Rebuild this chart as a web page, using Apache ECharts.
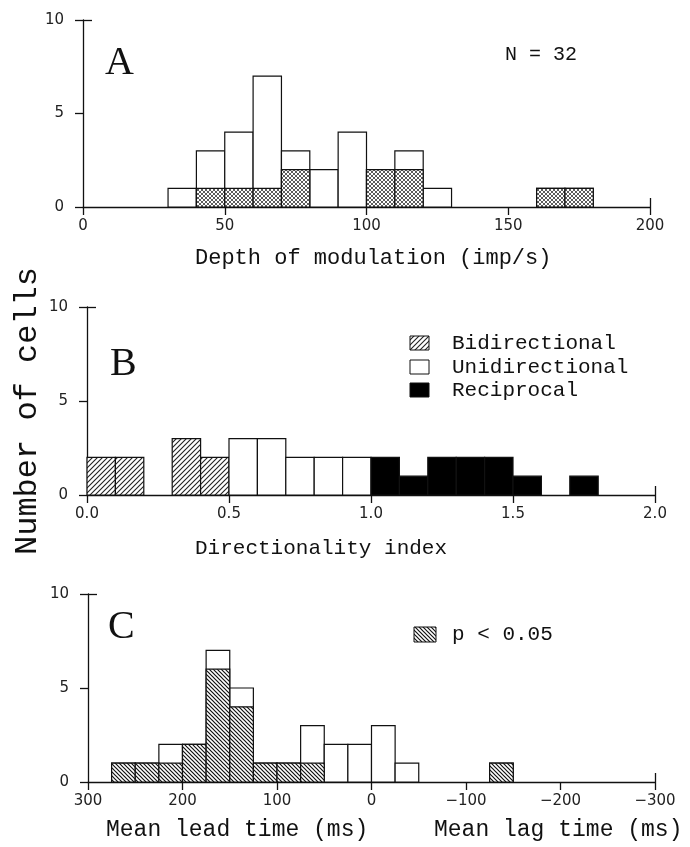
<!DOCTYPE html>
<html>
<head>
<meta charset="utf-8">
<script src="https://cdn.jsdelivr.net/npm/echarts@6/dist/echarts.min.js"></script>
<style>
  html, body, #main { width: 690px; height: 847px; margin: 0; background: #fff; }
</style>
</head>
<body>
<div id="main"></div>
<script>
// A: depth of modulation, 10 imp/s bins (shaded part drawn over total)
var aBinStart = [30, 40, 50, 60, 70, 80, 90, 100, 110, 120, 160, 170]
var aTotal    = [1, 3, 4, 7, 3, 2, 4, 2, 3, 1, 1, 1]
var aShaded   = [0, 1, 1, 1, 2, 0, 0, 2, 2, 0, 1, 1]
var aBinWidth = 10

// B: directionality index, 0.1 bins
var bBinStart = [0.0, 0.1, 0.2, 0.3, 0.4, 0.5, 0.6, 0.7, 0.8, 0.9, 1.0, 1.1, 1.2, 1.3, 1.4, 1.5, 1.6, 1.7]
var bBidirectional  = [2, 2, 0, 3, 2, 0, 0, 0, 0, 0, 0, 0, 0, 0, 0, 0, 0, 0]
var bUnidirectional = [0, 0, 0, 0, 0, 3, 3, 2, 2, 2, 0, 0, 0, 0, 0, 0, 0, 0]
var bReciprocal     = [0, 0, 0, 0, 0, 0, 0, 0, 0, 0, 2, 1, 2, 2, 2, 1, 0, 1]
var bBinWidth = 0.1

// C: mean lead (+) / lag (-) time, 25 ms bins, axis runs 300 -> -300
var cBinStart    = [275, 250, 225, 200, 175, 150, 125, 100, 75, 50, 25, 0, -25, -125]
var cTotal       = [1, 1, 2, 2, 7, 5, 1, 1, 3, 2, 2, 3, 1, 1]
var cSignificant = [1, 1, 1, 2, 6, 4, 1, 1, 1, 0, 0, 0, 0, 1]
var cBinWidth = -25

var monoFont = '"Liberation Mono", "DejaVu Sans Mono", monospace'
var ink = '#111'

function pattern(size, dirs, lw, color) {
  var c = document.createElement('canvas')
  c.width = c.height = size
  var g = c.getContext('2d')
  g.fillStyle = '#fff'
  g.fillRect(0, 0, size, size)
  g.strokeStyle = color
  g.lineWidth = lw
  g.beginPath()
  dirs.forEach(function (d) {
    for (var k = -1; k <= 1; k++) {
      if (d === '/') { g.moveTo(k * size - 1, size + 1); g.lineTo(k * size + size + 1, -1) }
      else { g.moveTo(k * size - 1, -1); g.lineTo(k * size + size + 1, size + 1) }
    }
  })
  g.stroke()
  return { image: c, repeat: 'repeat' }
}

var crossFill = pattern(4, ['/', '\\'], 0.8, '#333')
var slashFill = pattern(5, ['/'], 1.1, '#222')
var backFill  = pattern(4, ['\\'], 1.2, '#111')

function hist(starts, counts, width) {
  return starts.map(function (s, i) { return [s, s + width, counts[i]] })
    .filter(function (d) { return d[2] > 0 })
}

function histSeries(idx, data, fill) {
  return {
    type: 'custom', xAxisIndex: idx, yAxisIndex: idx,
    encode: { x: [0, 1], y: 2 },
    data: data, silent: true, animation: false,
    renderItem: function (params, api) {
      var a = api.coord([api.value(0), api.value(2)])
      var b = api.coord([api.value(1), 0])
      return {
        type: 'rect',
        shape: { x: Math.min(a[0], b[0]), y: a[1], width: Math.abs(b[0] - a[0]), height: b[1] - a[1] },
        style: { fill: fill, stroke: ink, lineWidth: 1.2 }
      }
    }
  }
}

var labelStyle = { fontFamily: '"DejaVu Sans", sans-serif', fontSize: 15, color: '#222' }
var lineStyle = { color: ink, width: 1.3 }

function xAxisMain(grid, min, max, interval, fmt, inverse) {
  return {
    type: 'value', gridIndex: grid, position: 'bottom', min: min, max: max, interval: interval, inverse: !!inverse,
    axisLine: { show: true, onZero: false, lineStyle: lineStyle },
    axisTick: { show: true, length: 8, lineStyle: lineStyle },
    axisLabel: Object.assign({ margin: 12, formatter: fmt }, labelStyle),
    splitLine: { show: false }
  }
}
// second axis on the same edge, only to draw the end tick that crosses the line
function xAxisEnd(grid, min, max, endVal, inverse) {
  return {
    type: 'value', gridIndex: grid, position: 'bottom', min: min, max: max, inverse: !!inverse,
    axisLine: { show: false, onZero: false }, axisLabel: { show: false }, splitLine: { show: false },
    axisTick: { show: true, inside: true, length: 9, lineStyle: lineStyle, customValues: [endVal] }
  }
}
function yAxisMain(grid) {
  return {
    type: 'value', gridIndex: grid, position: 'left', min: 0, max: 10, interval: 5,
    axisLine: { show: true, onZero: false, lineStyle: lineStyle },
    axisTick: { show: true, length: 8, lineStyle: lineStyle },
    axisLabel: Object.assign({ margin: 19 }, labelStyle),
    splitLine: { show: false }
  }
}
function yAxisEnd(grid) {
  return {
    type: 'value', gridIndex: grid, position: 'left', min: 0, max: 10,
    axisLine: { show: false, onZero: false }, axisLabel: { show: false }, splitLine: { show: false },
    axisTick: { show: true, inside: true, length: 9, lineStyle: lineStyle, customValues: [10] }
  }
}

function txt(text, x, y, font, opts) {
  return Object.assign({
    type: 'text', x: x, y: y, silent: true,
    style: { text: text, font: font, fill: ink, textAlign: 'left', textVerticalAlign: 'middle' }
  }, opts || {})
}
function box(x, y, w, h, fill) {
  return { type: 'rect', silent: true, shape: { x: x, y: y, width: w, height: h },
    style: { fill: fill, stroke: ink, lineWidth: 1 } }
}

var chart = echarts.init(document.getElementById('main'))
chart.setOption({
  backgroundColor: '#fff',
  animation: false,
  grid: [
    { left: 83, top: 20, width: 567, height: 187 },
    { left: 87, top: 307, width: 568, height: 188 },
    { left: 88, top: 594, width: 567, height: 188 }
  ],
  xAxis: [
    xAxisMain(0, 0, 200, 50, function (v) { return String(v) }),
    xAxisMain(1, 0, 2, 0.5, function (v) { return v.toFixed(1) }),
    xAxisMain(2, -300, 300, 100, function (v) { return v < 0 ? '\u2212' + (-v) : String(v) }, true),
    xAxisEnd(0, 0, 200, 200),
    xAxisEnd(1, 0, 2, 2),
    xAxisEnd(2, -300, 300, -300, true)
  ],
  yAxis: [yAxisMain(0), yAxisMain(1), yAxisMain(2), yAxisEnd(0), yAxisEnd(1), yAxisEnd(2)],
  series: [
    histSeries(0, hist(aBinStart, aTotal, aBinWidth), '#fff'),
    histSeries(0, hist(aBinStart, aShaded, aBinWidth), crossFill),
    histSeries(1, hist(bBinStart, bBidirectional, bBinWidth), slashFill),
    histSeries(1, hist(bBinStart, bUnidirectional, bBinWidth), '#fff'),
    histSeries(1, hist(bBinStart, bReciprocal, bBinWidth), '#000'),
    histSeries(2, hist(cBinStart, cTotal, cBinWidth), '#fff'),
    histSeries(2, hist(cBinStart, cSignificant, cBinWidth), backFill)
  ],
  graphic: [
    txt('A', 105, 63, '40px "Liberation Serif", serif'),
    txt('B', 110, 364, '40px "Liberation Serif", serif'),
    txt('C', 108, 627, '40px "Liberation Serif", serif'),
    txt('N = 32', 505, 55, '20px ' + monoFont),
    txt('Depth of modulation (imp/s)', 195, 258, '22px ' + monoFont),
    txt('Directionality index', 195, 548, '21px ' + monoFont),
    txt('Mean lead time (ms)', 106, 830, '23px ' + monoFont),
    txt('Mean lag time (ms)', 434, 830, '23px ' + monoFont),
    txt('Number of cells', 28, 411, '32px ' + monoFont,
      { rotation: Math.PI / 2, style: { text: 'Number of cells', font: '32px ' + monoFont, fill: ink, textAlign: 'center', textVerticalAlign: 'middle' } }),
    box(410, 336, 19, 14, slashFill),
    box(410, 360, 19, 14, '#fff'),
    box(410, 383, 19, 14, '#000'),
    txt('Bidirectional', 452, 343, '21px ' + monoFont),
    txt('Unidirectional', 452, 367, '21px ' + monoFont),
    txt('Reciprocal', 452, 390, '21px ' + monoFont),
    box(414, 627, 22, 15, backFill),
    txt('p < 0.05', 452, 634, '21px ' + monoFont)
  ]
})
</script>
</body>
</html>
